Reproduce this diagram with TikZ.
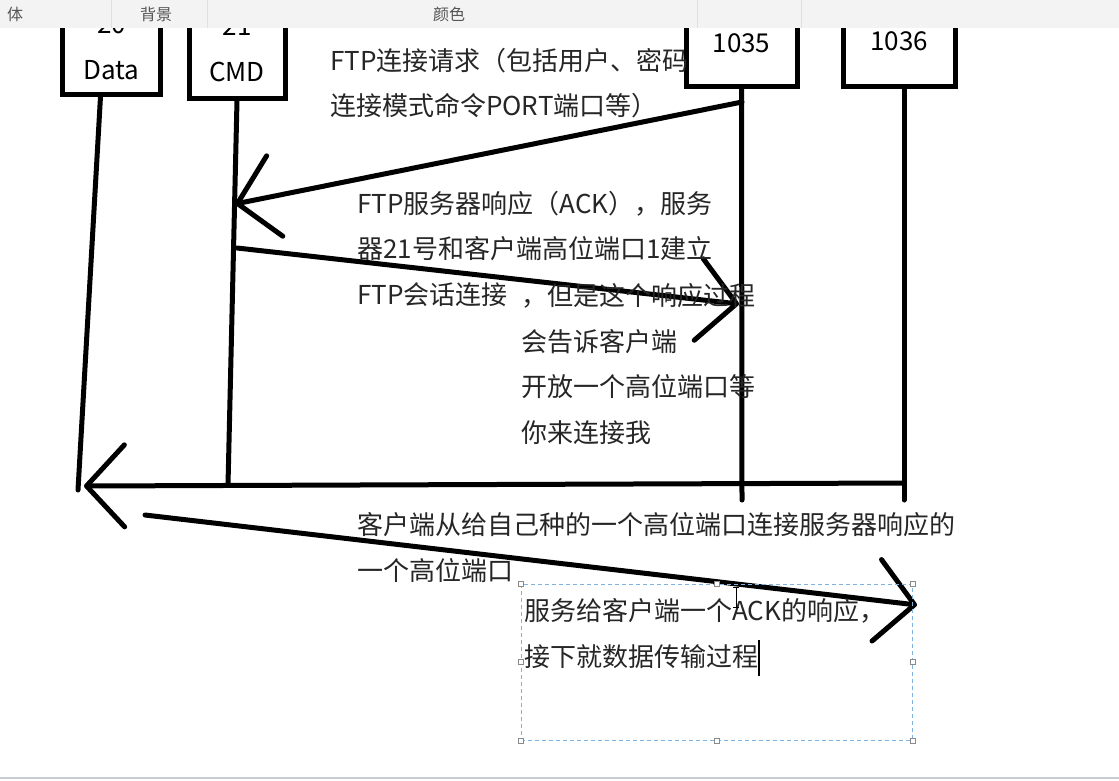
\documentclass[tikz,border=0pt]{standalone}
\usepackage{fontspec}
\setmainfont{Noto Sans CJK SC}
\usepackage{xcolor}
\usetikzlibrary{arrows.meta, positioning}
\definecolor{barfill}{HTML}{F3F3F3}
\definecolor{bartext}{HTML}{555555}
\definecolor{barsep}{HTML}{E0E0E0}
\definecolor{bottomrule}{HTML}{C6CBD4}
\definecolor{seldraw}{HTML}{7FB3E0}
\definecolor{griprim}{HTML}{8A8A8A}
\tikzset{
  port/.style={rectangle, draw=black, line width=5pt, align=center, font=\fontsize{26}{46}\selectfont, inner sep=0pt},
  life/.style={line width=5pt, draw=black, line cap=round},
  msg/.style={-{Straight Barb[length=38pt, width=82pt, round]}, line width=5pt, draw=black, line cap=round},
  note/.style={align=left, font=\fontsize{26}{45.5}\selectfont, inner sep=0pt, text=black!85},
  tab/.style={font=\fontsize{16}{16}\selectfont, text=bartext, inner sep=0pt},
  grip/.style={rectangle, draw=griprim, fill=white, line width=0.8pt, minimum size=5pt, inner sep=0pt},
}

\begin{document}
\begin{tikzpicture}[x=1pt, y=-1pt]
  \useasboundingbox (0,0) rectangle (1119,780);
  % port boxes
  \node[port, minimum width=98pt, minimum height=94pt] (data) at (111.5,47) {20\\Data};
  \node[port, minimum width=96pt, minimum height=98pt] (cmd) at (237,49) {21\\CMD};
  \node[port, minimum width=111pt, minimum height=86pt] (p1035) at (741.5,43) {1035};
  \node[port, minimum width=112pt, minimum height=86pt] (p1036) at (899,43) {\raisebox{4pt}{1036}};

  % lifelines
  \coordinate (dataEnd) at (78,490);
  \coordinate (cmdEnd) at (228,485);
  \coordinate (p1035End) at (742,500);
  \coordinate (p1036End) at (904,500);
  \draw[life] ([xshift=-11pt]data.south) -- (dataEnd);
  \draw[life] (cmd.south) -- (cmdEnd);
  \draw[life] (p1035.south) -- (p1035End);
  \draw[life] ([xshift=5pt]p1036.south) -- (p1036End);

  % messages
  \coordinate (reqFrom) at (742,102);
  \coordinate (reqTo) at (235,204);
  \coordinate (ackFrom) at (237,248);
  \coordinate (ackTo) at (739,304);
  \coordinate (openFrom) at (904,483);
  \coordinate (openTo) at (84,486);
  \coordinate (dataFrom) at (145,515);
  \coordinate (dataTo) at (917,605);
  \draw[msg] (reqFrom) -- (reqTo);
  \draw[msg] (ackFrom) -- (ackTo);
  \draw[msg] (openFrom) -- (openTo);
  \draw[msg] (dataFrom) -- (dataTo);

  % texts (base = last line)
  \node[note, anchor=base west] (req) at (330,115.5) {FTP连接请求（包括用户、密码\\连接模式命令PORT端口等）};
  \node[note, anchor=base west] (ack) at (357,304) {FTP服务器响应（ACK），服务\\器21号和客户端高位端口1建立\\FTP会话连接};
  \node[note, anchor=base west] (tell) at (521,442) {，但是这个响应过程\\会告诉客户端\\开放一个高位端口等\\你来连接我};
  \node[note, anchor=base west] (back) at (357,580) {客户端从给自己种的一个高位端口连接服务器响应的\\一个高位端口};

  % selected text box
  \node[draw=seldraw, dash pattern=on 4pt off 3pt, line width=1pt, minimum width=391pt, minimum height=156pt, inner sep=0pt] (sel) at (716.5,662) {};
  \foreach \a in {north west, north, north east, west, east, south west, south, south east}
    \node[grip] at (sel.\a) {};
  \node[note, anchor=base west] (trans) at (524,666) {服务给客户端一个ACK的响应，\\接下就数据传输过程};
  \draw[line width=1.2pt] (759,640) -- (759,676);
  \draw[line width=1pt] (736,587) -- (736,607) (733,587) -- (739,587) (733,607) -- (739,607);

  % toolbar
  \node[fill=barfill, minimum width=1119pt, minimum height=28pt, inner sep=0pt, anchor=north west] (bar) at (0,0) {};
  \foreach \x in {111,207,697,801}
    \draw[barsep, line width=1pt] (\x,0) -- (\x,28);
  \node[tab] (font) at (15,14) {体};
  \node[tab] (bg) at (156,14) {背景};
  \node[tab] (col) at (449,14) {颜色};
  \draw[bottomrule, line width=2pt] (0,778) -- (1119,778);
\end{tikzpicture}
\end{document}
